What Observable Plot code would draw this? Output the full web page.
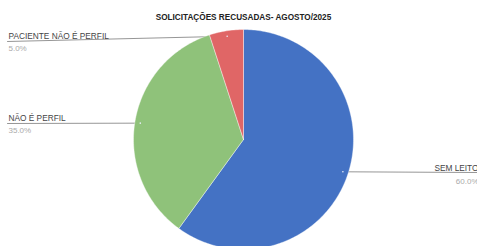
<!DOCTYPE html>
<html><head><meta charset="utf-8">
<script src="https://cdn.jsdelivr.net/npm/d3@7"></script>
<script src="https://cdn.jsdelivr.net/npm/@observablehq/plot@0.6"></script>
<style>html,body{margin:0;padding:0;background:#fff;overflow:hidden}</style>
</head><body><div id="chart"></div>
<script>
const title = "SOLICITAÇÕES RECUSADAS- AGOSTO/2025";
const categories = ["SEM LEITO", "NÃO É PERFIL", "PACIENTE NÃO É PERFIL"];
const values = [60, 35, 5];
const percentLabels = ["60.0%", "35.0%", "5.0%"];
const colors = ["#4472c4", "#8fc27a", "#e06666"];

// layout (pixels)
const W = 477, H = 246, CX = 243, CY = 139, R = 110;
const toX = px => (px - CX) / R;
const toY = py => (CY - py) / R;

const total = d3.sum(values);
let acc = 0;
const slices = categories.map((c, i) => {
  const a0 = acc / total * 2 * Math.PI;
  acc += values[i];
  const a1 = acc / total * 2 * Math.PI;
  return {cat: c, a0, a1, mid: (a0 + a1) / 2, i};
});
const poly = [];
for (const s of slices) {
  poly.push({cat: s.cat, x: 0, y: 0});
  const n = Math.max(2, Math.ceil((s.a1 - s.a0) / (Math.PI / 180)));
  for (let k = 0; k <= n; k++) {
    const a = s.a0 + (s.a1 - s.a0) * k / n;
    poly.push({cat: s.cat, x: Math.sin(a), y: Math.cos(a)});
  }
  poly.push({cat: s.cat, x: 0, y: 0});
}
const dots = slices.map(s => ({cat: s.cat, x: 0.95 * Math.sin(s.mid), y: 0.95 * Math.cos(s.mid)}));

// label anchors (pixels): [labelX, nameY, pctY, lineStartX, lineStartY, anchor]
const labelLayout = {
  "SEM LEITO": {x: 478, ny: 170, py: 183, lx: 477, ly: 172, anchor: "end"},
  "NÃO É PERFIL": {x: 8, ny: 120, py: 132, lx: 7, ly: 123, anchor: "start"},
  "PACIENTE NÃO É PERFIL": {x: 8, ny: 38, py: 50, lx: 7, ly: 41, anchor: "start"}
};
const leaders = [];
slices.forEach(s => {
  const L = labelLayout[s.cat];
  const d = dots[s.i];
  leaders.push({cat: s.cat, x: toX(L.lx), y: toY(L.ly)});
  leaders.push({cat: s.cat, x: d.x, y: d.y});
});
const names = slices.map(s => ({t: s.cat, x: toX(labelLayout[s.cat].x), y: toY(labelLayout[s.cat].ny), a: labelLayout[s.cat].anchor}));
const pcts = slices.map(s => ({t: percentLabels[s.i], x: toX(labelLayout[s.cat].x), y: toY(labelLayout[s.cat].py), a: labelLayout[s.cat].anchor}));

const chart = Plot.plot({
  width: W, height: H,
  margin: 0,
  style: {fontFamily: "'Liberation Sans', Arial, sans-serif", background: "#fff"},
  x: {domain: [toX(0), toX(W)], axis: null},
  y: {domain: [toY(H), toY(0)], axis: null},
  color: {domain: categories, range: colors},
  marks: [
    Plot.line(leaders, {x: "x", y: "y", z: "cat", stroke: "#8a8a8a", strokeWidth: 0.9}),
    Plot.line(poly, {x: "x", y: "y", z: "cat", fill: "cat", stroke: "#ffffff", strokeWidth: 0.4, curve: "linear"}),
    Plot.dot(dots, {x: "x", y: "y", r: 0.8, fill: "#e8eefa", stroke: "none"}),
    Plot.text(names.filter(d => d.a === "start"), {x: "x", y: "y", text: "t", textAnchor: "start", lineAnchor: "bottom", fontSize: 8.3, fill: "#444"}),
    Plot.text(names.filter(d => d.a === "end"), {x: "x", y: "y", text: "t", textAnchor: "end", lineAnchor: "bottom", fontSize: 8.3, fill: "#444"}),
    Plot.text(pcts.filter(d => d.a === "start"), {x: "x", y: "y", text: "t", textAnchor: "start", lineAnchor: "bottom", fontSize: 8, fill: "#aaa"}),
    Plot.text(pcts.filter(d => d.a === "end"), {x: "x", y: "y", text: "t", textAnchor: "end", lineAnchor: "bottom", fontSize: 8, fill: "#aaa"}),
    Plot.text([title], {x: toX(243), y: toY(19), text: d => d, textAnchor: "middle", lineAnchor: "bottom", fontSize: 8.2, fontWeight: "bold", fill: "#222"})
  ]
});
document.getElementById("chart").appendChild(chart);
</script>
</body></html>
